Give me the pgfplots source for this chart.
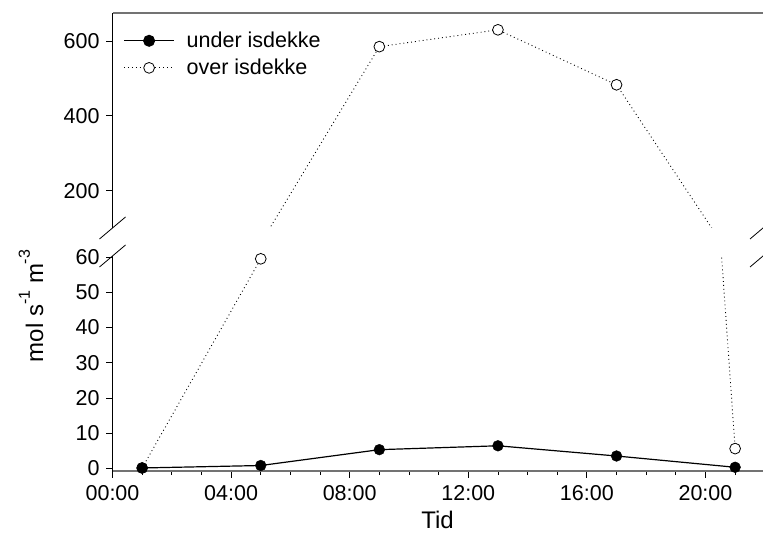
\documentclass[border=0pt]{standalone}
\usepackage{pgfplots}
\pgfplotsset{compat=1.18}
\usepackage{pgfplotstable}
\usepackage{fontspec}
\setmainfont{Liberation Sans}

\pgfplotstableread{
t under over
1 0.1 0.1
5 0.8 59.5
9 5.3 585
13 6.4 630
17 3.5 483
21 0.3 5.6
}\data

\pgfplotsset{
  brk/.style={
    scale only axis, width=650.5pt, height=215pt,
    xmin=0, xmax=21.94,
    clip=true,
    tick align=outside,
    major tick length=6.5pt, minor tick length=4pt,
    axis y line*=left,
    y axis line style={black, line width=0.8pt},
    ytick style={black, line width=0.8pt},
    xtick style={black, line width=0.8pt},
    /pgf/number format/assume math mode=true,
    tick label style={font=\fontsize{21.5}{24}\selectfont},
    yticklabel style={xshift=-3pt},
  },
  dotl/.style={black, line width=0.9pt, dash pattern=on 0.9pt off 3pt},
  solidl/.style={black, line width=1.2pt},
}

\begin{document}
\begin{tikzpicture}
\useasboundingbox (0pt,0pt) rectangle (763pt,547pt);

% lower panel
\begin{axis}[brk, at={(112.5pt,76pt)}, anchor=south west,
  ymin=-0.76, ymax=60.3,
  ytick={0,10,20,30,40,50,60},
  axis x line*=bottom,
  x axis line style={black!55, line width=1.2pt},
  xtick={0,4,8,12,16,20},
  xticklabels={00:00,04:00,08:00,12:00,16:00,20:00},
  minor xtick={1,2,3,5,6,7,9,10,11,13,14,15,17,18,19,21},
  xticklabel style={yshift=-4.5pt},
]
\addplot[dotl] table[x=t,y=over] {\data};
\addplot[solidl] table[x=t,y=under] {\data};
\addplot[only marks, mark=*, mark size=5.4pt, mark options={fill=white, draw=black, line width=0.8pt, solid},
  restrict y to domain=-10:61] table[x=t,y=over] {\data};
\addplot[only marks, mark=*, mark size=5.4pt, mark options={fill=black, draw=black, solid},
  restrict y to domain=-10:61] table[x=t,y=under] {\data};
\end{axis}

% upper panel
\begin{axis}[brk, at={(112.5pt,319pt)}, anchor=south west,
  ymin=100, ymax=675,
  ytick={200,400,600},
  axis x line*=top,
  x axis line style={black!55, line width=1.2pt},
  xtick=\empty,
  legend style={draw=none, fill=none, at={(axis description cs:0.012,0.93)}, anchor=north west,
    font=\fontsize{21.5}{24}\selectfont, row sep=6pt, cells={anchor=west}},
  legend image code/.code={\draw[mark repeat=2, mark phase=2, #1] plot coordinates {(0pt,0pt) (25pt,0pt) (50pt,0pt)}; \path (60pt,0pt);},
]
\addlegendimage{solidl, mark=*, mark size=5.4pt, mark options={fill=black, solid}}
\addlegendentry{under isdekke}
\addlegendimage{dotl, mark=*, mark size=5.4pt, mark options={fill=white, draw=black, line width=0.8pt, solid}}
\addlegendentry{over isdekke}
\addplot[dotl, forget plot] table[x=t,y=over] {\data};
\addplot[only marks, mark=*, mark size=5.4pt, mark options={fill=white, draw=black, line width=0.8pt, solid},
  restrict y to domain=100:1000, forget plot] table[x=t,y=over] {\data};
\end{axis}

% axis break marks
\draw[black, line width=0.8pt] (99.5pt,308pt) -- (125.5pt,330pt);
\draw[black, line width=0.8pt] (99.5pt,280pt) -- (125.5pt,302pt);
\draw[black, line width=0.8pt] (750pt,308pt) -- (776pt,330pt);
\draw[black, line width=0.8pt] (750pt,280pt) -- (776pt,302pt);

% axis titles
\node[font=\fontsize{24}{28}\selectfont] at (437.5pt,27pt) {Tid};
\node[font=\fontsize{24}{28}\selectfont, rotate=90] at (31pt,241pt) {mol s\raisebox{0.55em}{\fontsize{16}{18}\selectfont -1} m\raisebox{0.55em}{\fontsize{16}{18}\selectfont -3}};
\end{tikzpicture}
\end{document}
